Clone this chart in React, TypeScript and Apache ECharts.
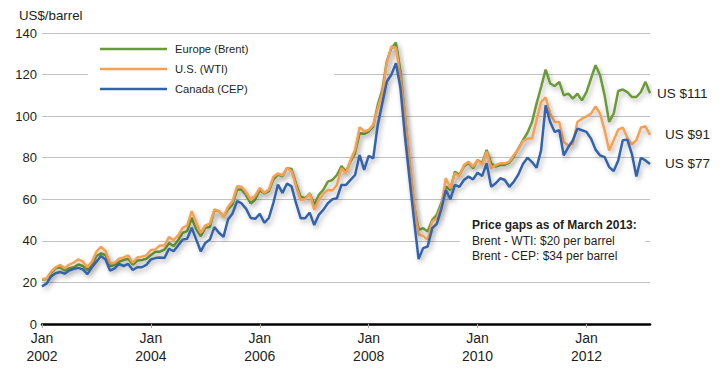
import React, { useEffect, useRef } from "react";
import * as echarts from "echarts";

const MONTHS = ["Jan", "Feb", "Mar", "Apr", "May", "Jun", "Jul", "Aug", "Sep", "Oct", "Nov", "Dec"];
const YEARS = [2002, 2003, 2004, 2005, 2006, 2007, 2008, 2009, 2010, 2011, 2012, 2013];
const LAST_MONTH = "Mar 2013";

const categories: string[] = [];
outer: for (const y of YEARS) {
  for (const m of MONTHS) {
    const c = `${m} ${y}`;
    categories.push(c);
    if (c === LAST_MONTH) break outer;
  }
}

const SERIES_NAMES = ["Europe (Brent)", "U.S. (WTI)", "Canada (CEP)"];

const brent = [
  21.3, 21.6, 24.4, 26.8, 27.3, 25.7, 26.8, 27.3, 28.6, 27.9, 26.0, 28.4,
  32.7, 34.0, 33.2, 27.9, 28.4, 30.0, 30.8, 31.4, 28.6, 30.5, 30.8, 31.4,
  33.2, 34.8, 34.8, 35.8, 39.0, 37.4, 40.3, 43.9, 44.7, 51.1, 45.5, 42.2,
  46.3, 46.7, 54.8, 54.3, 51.6, 55.1, 57.5, 64.7, 64.7, 61.8, 58.0, 59.9,
  64.4, 62.8, 63.9, 69.5, 71.9, 71.1, 75.0, 74.6, 67.4, 61.3, 60.5, 62.9,
  57.3, 62.1, 64.5, 68.5, 69.3, 71.7, 76.0, 73.3, 78.1, 82.2, 91.8, 91.5,
  92.6, 95.0, 105.4, 112.6, 126.3, 132.7, 135.4, 121.5, 100.0, 77.0, 57.0, 45.3,
  46.1, 44.5, 50.1, 52.5, 58.1, 66.1, 64.5, 73.3, 71.7, 75.7, 77.6, 74.9,
  78.9, 77.3, 83.7, 77.3, 75.7, 76.5, 76.5, 77.6, 80.5, 84.4, 88.4, 92.0,
  97.2, 106.0, 114.0, 122.4, 115.7, 114.4, 116.5, 110.0, 110.8, 108.4, 110.8, 107.6,
  111.6, 118.1, 124.5, 119.7, 110.0, 97.2, 101.2, 112.1, 112.8, 111.6, 109.2, 109.2,
  111.6, 116.5, 111,
];

const wti = [
  21.6, 21.9, 25.2, 27.3, 28.4, 26.8, 28.6, 29.5, 31.1, 30.0, 27.3, 30.0,
  34.8, 37.1, 35.1, 29.2, 29.5, 31.4, 32.0, 33.0, 29.5, 32.0, 32.4, 33.0,
  35.6, 35.9, 37.8, 37.8, 41.9, 40.3, 42.6, 46.3, 47.4, 54.3, 48.7, 43.9,
  47.4, 48.3, 55.1, 54.3, 51.6, 56.4, 59.1, 66.3, 66.0, 63.4, 59.9, 61.8,
  65.5, 63.1, 64.7, 70.8, 72.4, 71.5, 75.0, 73.5, 66.1, 59.7, 60.0, 62.9,
  54.9, 59.7, 62.6, 64.5, 64.2, 66.9, 74.9, 72.5, 78.9, 83.8, 94.7, 92.6,
  93.4, 95.8, 103.8, 111.0, 125.5, 133.5, 132.7, 119.1, 101.0, 80.0, 58.0, 43.0,
  42.4, 40.5, 49.3, 50.9, 56.5, 70.1, 65.3, 72.5, 70.9, 76.5, 78.1, 75.7,
  78.9, 76.5, 82.9, 74.9, 76.5, 77.3, 77.3, 78.1, 81.3, 84.0, 88.0, 89.2,
  89.2, 98.0, 106.8, 109.0, 101.2, 97.2, 97.2, 87.6, 85.9, 86.7, 97.2, 98.8,
  99.9, 101.2, 104.7, 101.2, 93.2, 83.5, 88.4, 93.5, 94.5, 89.6, 86.4, 88.4,
  94.5, 95.1, 91,
];

const cep = [
  18.1, 19.4, 22.9, 24.4, 25.0, 24.2, 25.7, 26.5, 27.0, 26.3, 24.0, 27.3,
  30.0, 32.7, 31.0, 25.7, 26.8, 28.9, 27.9, 28.9, 26.0, 27.3, 27.3, 28.4,
  31.1, 31.7, 32.0, 31.8, 36.2, 35.0, 37.8, 40.6, 41.0, 46.3, 40.6, 34.9,
  39.0, 40.6, 46.6, 43.9, 41.9, 50.3, 53.2, 59.1, 58.0, 55.4, 51.0, 50.6,
  53.0, 48.7, 51.0, 58.3, 67.1, 63.1, 67.6, 66.2, 58.1, 50.9, 50.9, 53.6,
  47.6, 52.5, 54.9, 58.1, 60.0, 60.5, 66.9, 66.9, 69.3, 71.7, 81.3, 74.1,
  80.9, 79.7, 95.8, 106.2, 116.7, 119.9, 125.5, 113.5, 90.2, 70.0, 50.0, 31.2,
  36.5, 37.3, 46.1, 48.2, 55.2, 64.5, 60.0, 66.9, 66.0, 69.3, 70.9, 69.6,
  72.8, 71.2, 77.3, 66.0, 67.7, 70.1, 69.3, 66.0, 68.5, 72.0, 77.0, 80.0,
  77.9, 75.2, 83.5, 105.2, 97.2, 92.4, 93.2, 81.1, 85.1, 88.4, 94.0, 93.2,
  92.4, 89.2, 83.9, 81.1, 80.3, 75.5, 73.6, 78.7, 88.4, 88.7, 81.9, 71.0,
  80.0, 78.7, 77,
];

const Y_TICKS = [0, 20, 40, 60, 80, 100, 120, 140];
const UNIT_LABEL = "US$/barrel";
const NOTE_TITLE = "Price gaps as of March 2013:";
const NOTE_LINES = ["Brent - WTI: $20 per barrel", "Brent - CEP: $34 per barrel"];

const FONT = "'Liberation Sans', Arial, Helvetica, sans-serif";
const TEXT = "#231f20";
const COLORS = ["#6b9b37", "#f7a052", "#3263ac"];

export default function App() {
  const ref = useRef<HTMLDivElement>(null);

  useEffect(() => {
    if (!ref.current) return;
    const chart = echarts.init(ref.current, null, { renderer: "svg" });
    const shadow = {
      shadowColor: "rgba(0,0,0,0.28)",
      shadowBlur: 5,
      shadowOffsetX: 2,
      shadowOffsetY: 3,
    };
    const mkSeries = (name: string, data: number[], color: string, dist: number, z: number) => ({
      name,
      type: "line",
      data,
      color,
      z,
      showSymbol: false,
      symbol: "none",
      lineStyle: { width: 2.5, color, ...shadow },
      endLabel: {
        show: true,
        distance: dist,
        fontSize: 13.5,
        fontFamily: FONT,
        color: TEXT,
        formatter: (p: any) => `US $${Math.round(p.value)}`,
      },
    });

    const noteText = (text: string, y: number, bold: boolean) => ({
      type: "text",
      z: 101,
      x: 472,
      y,
      style: {
        text,
        fontSize: 12,
        fontWeight: bold ? "bold" : "normal",
        fontFamily: FONT,
        fill: TEXT,
        verticalAlign: "middle",
      },
    });

    chart.setOption({
      animation: false,
      textStyle: { fontFamily: FONT },
      grid: { left: 42, right: 70, top: 33, bottom: 48, containLabel: false },
      legend: {
        data: SERIES_NAMES,
        orient: "vertical",
        left: 88,
        top: 35,
        padding: [4, 86, 4, 12],
        backgroundColor: "#fff",
        icon: "rect",
        itemWidth: 67,
        itemHeight: 2.5,
        itemGap: 0,
        textStyle: {
          fontSize: 11.2,
          lineHeight: 20,
          color: TEXT,
          fontFamily: FONT,
          padding: [0, 0, 0, 3],
        },
      },
      xAxis: {
        type: "category",
        data: categories,
        boundaryGap: false,
        axisLine: { lineStyle: { color: "#000", width: 2.5 } },
        axisTick: {
          show: true,
          interval: (i: number) => i % 24 === 0,
          length: 4,
          lineStyle: { color: "#aaa" },
        },
        axisLabel: {
          interval: (i: number) => i % 24 === 0,
          formatter: (v: string) => v.replace(" ", "\n"),
          fontSize: 14,
          lineHeight: 18,
          margin: 5,
          color: TEXT,
          fontFamily: FONT,
        },
        splitLine: { show: false },
      },
      yAxis: {
        type: "value",
        min: Y_TICKS[0],
        max: Y_TICKS[Y_TICKS.length - 1],
        interval: Y_TICKS[1] - Y_TICKS[0],
        axisLine: { show: false },
        axisTick: { show: false },
        axisLabel: { fontSize: 13, margin: 5, color: TEXT, fontFamily: FONT },
        splitLine: { lineStyle: { color: "#c2c2c2", width: 1 } },
      },
      series: [
        mkSeries(SERIES_NAMES[0], brent, COLORS[0], 7, 2),
        mkSeries(SERIES_NAMES[1], wti, COLORS[1], 15, 3),
        mkSeries(SERIES_NAMES[2], cep, COLORS[2], 15, 4),
      ],
      graphic: [
        {
          type: "text",
          x: 19,
          y: 15,
          style: {
            text: UNIT_LABEL,
            fontSize: 13.3,
            fontFamily: FONT,
            fill: TEXT,
            verticalAlign: "middle",
          },
        },
        {
          type: "rect",
          z: 100,
          shape: { x: 460, y: 212, width: 185, height: 54 },
          style: { fill: "#fff" },
        },
        noteText(NOTE_TITLE, 225, true),
        noteText(NOTE_LINES[0], 241, false),
        noteText(NOTE_LINES[1], 256, false),
      ],
    });
    return () => chart.dispose();
  }, []);

  return (
    <div
      ref={ref}
      style={{ position: "fixed", left: 0, top: 0, width: 720, height: 372, background: "#fff" }}
    />
  );
}
